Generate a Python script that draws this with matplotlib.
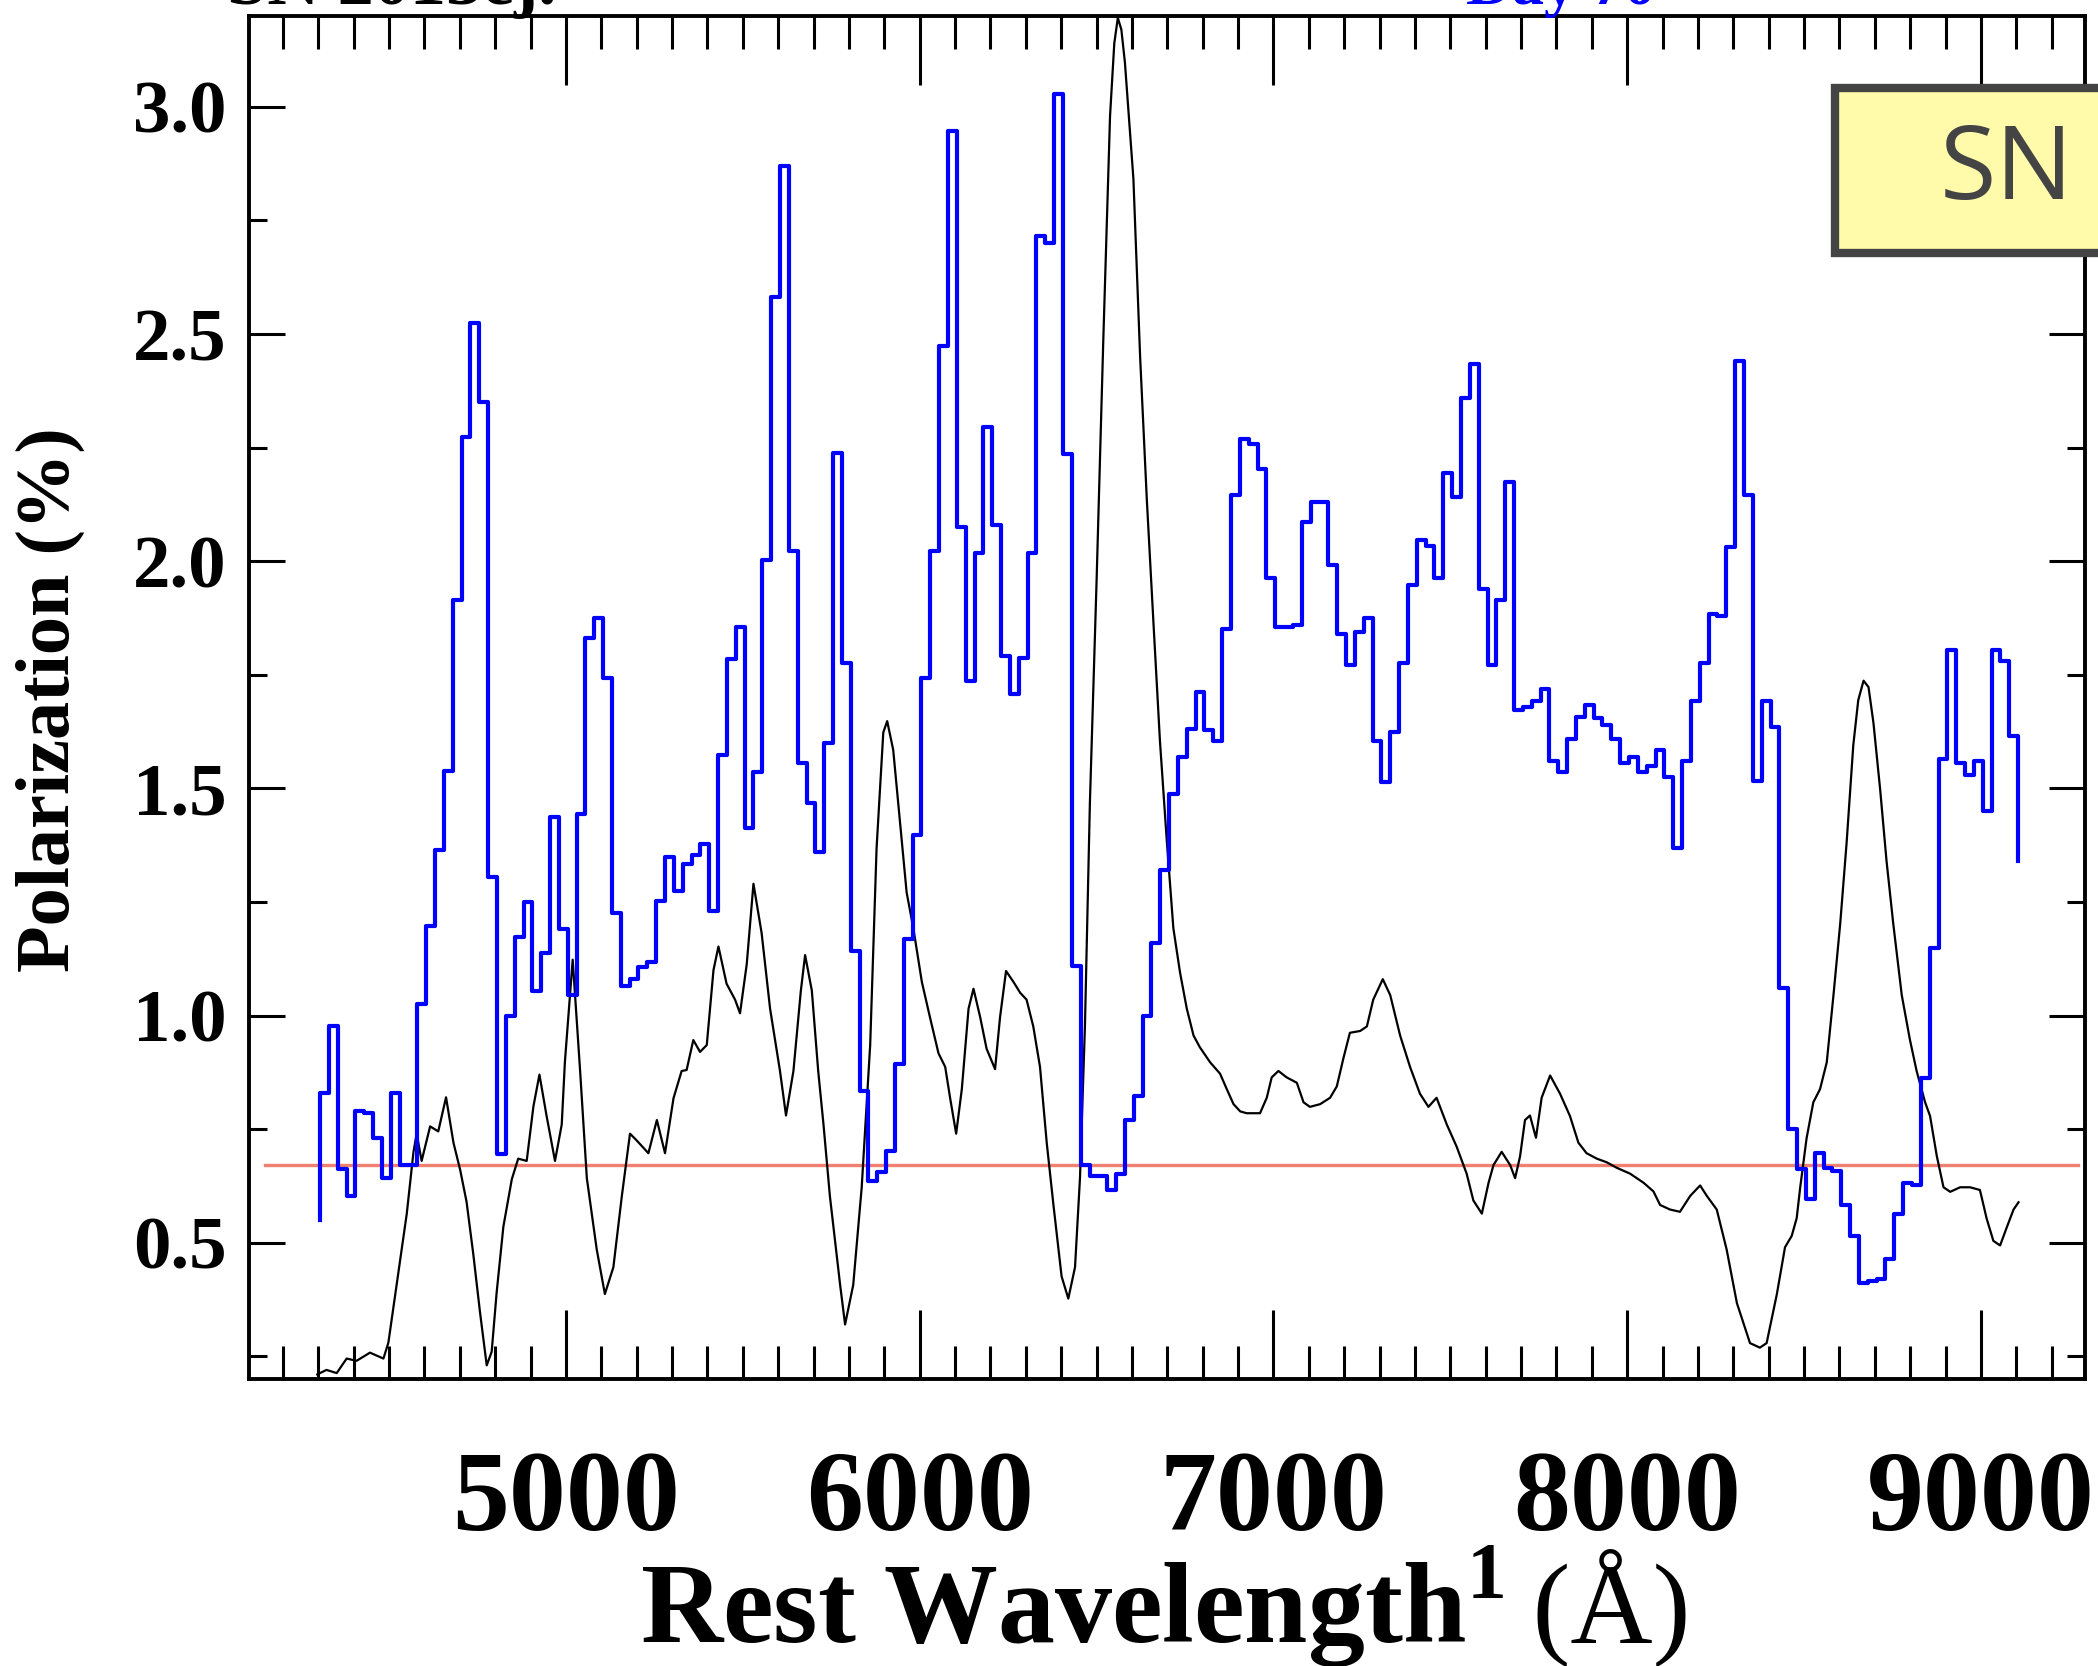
import numpy as np
import matplotlib.pyplot as plt
from matplotlib.ticker import MultipleLocator, FormatStrFormatter
from matplotlib.patches import Rectangle

# polarization spectrum: 25 A bins starting at 4305 A
bin_start = 4305.0
bin_width = 25.0
pol_start = 0.55   # value the histogram starts from
pol_end = 1.34     # value the histogram drops to at the end
pol = [0.829, 0.976, 0.662, 0.603, 0.789, 0.785, 0.73, 0.642, 0.829, 0.672,
       0.672, 1.025, 1.198, 1.365, 1.538, 1.915, 2.273, 2.524, 2.351, 1.304,
       0.695, 1.0, 1.172, 1.25, 1.055, 1.137, 1.438, 1.19, 1.045, 1.443,
       1.83, 1.874, 1.742, 1.225, 1.065, 1.08, 1.107, 1.117, 1.251, 1.349,
       1.274, 1.333, 1.353, 1.377, 1.231, 1.573, 1.785, 1.856, 1.412, 1.536,
       2.003, 2.581, 2.87, 2.023, 1.555, 1.467, 1.359, 1.599, 2.239, 1.776,
       1.143, 0.834, 0.636, 0.655, 0.701, 0.894, 1.169, 1.398, 1.742, 2.023,
       2.473, 2.946, 2.076, 1.736, 2.017, 2.296, 2.08, 1.791, 1.707, 1.787,
       2.017, 2.715, 2.701, 3.029, 2.237, 1.108, 0.672, 0.646, 0.646, 0.617,
       0.652, 0.77, 0.823, 1.0, 1.159, 1.32, 1.487, 1.57, 1.63, 1.713,
       1.628, 1.605, 1.85, 2.145, 2.269, 2.259, 2.204, 1.962, 1.856, 1.856,
       1.86, 2.086, 2.131, 2.131, 1.992, 1.84, 1.772, 1.844, 1.876, 1.605,
       1.514, 1.624, 1.776, 1.948, 2.046, 2.033, 1.962, 2.194, 2.141, 2.359,
       2.434, 1.939, 1.772, 1.915, 2.174, 1.673, 1.68, 1.693, 1.718, 1.561,
       1.536, 1.608, 1.658, 1.683, 1.654, 1.64, 1.608, 1.555, 1.569, 1.536,
       1.55, 1.585, 1.526, 1.369, 1.561, 1.693, 1.776, 1.884, 1.88, 2.031,
       2.44, 2.145, 1.516, 1.693, 1.634, 1.06, 0.75, 0.662, 0.597, 0.697,
       0.665, 0.657, 0.583, 0.514, 0.412, 0.416, 0.42, 0.465, 0.563, 0.632,
       0.626, 0.862, 1.149, 1.565, 1.805, 1.555, 1.53, 1.561, 1.451, 1.805,
       1.781, 1.615]

# scaled flux spectrum (black)
flux_wave = [4297, 4323, 4352, 4380, 4408, 4446, 4484, 4498, 4521, 4550,
             4569, 4578, 4592, 4616, 4639, 4661, 4682, 4701, 4719, 4738,
             4757, 4776, 4790, 4804, 4823, 4847, 4865, 4889, 4908, 4925,
             4945, 4969, 4988, 4997, 5019, 5040, 5059, 5087, 5110, 5134,
             5158, 5181, 5200, 5233, 5257, 5280, 5304, 5327, 5341, 5360,
             5379, 5398, 5417, 5431, 5454, 5478, 5492, 5511, 5530, 5553,
             5577, 5605, 5622, 5643, 5664, 5676, 5695, 5713, 5728, 5746,
             5775, 5789, 5812, 5836, 5860, 5878, 5897, 5908, 5925, 5944,
             5963, 5982, 6006, 6029, 6053, 6072, 6086, 6103, 6119, 6138,
             6152, 6171, 6189, 6213, 6227, 6244, 6265, 6284, 6302, 6321,
             6340, 6359, 6378, 6401, 6420, 6439, 6453, 6467, 6481, 6500,
             6519, 6538, 6550, 6560, 6570, 6580, 6604, 6623, 6642, 6661,
             6679, 6698, 6717, 6736, 6755, 6774, 6792, 6821, 6849, 6868,
             6887, 6906, 6924, 6943, 6962, 6981, 6995, 7014, 7037, 7066,
             7085, 7103, 7132, 7160, 7179, 7198, 7216, 7245, 7264, 7282,
             7309, 7330, 7358, 7386, 7414, 7438, 7461, 7490, 7518, 7546,
             7565, 7589, 7608, 7622, 7645, 7669, 7683, 7697, 7711, 7725,
             7742, 7758, 7782, 7810, 7838, 7862, 7885, 7914, 7942, 7970,
             8008, 8046, 8074, 8093, 8121, 8149, 8178, 8206, 8225, 8253,
             8281, 8310, 8347, 8375, 8394, 8423, 8446, 8465, 8479, 8489,
             8507, 8526, 8545, 8564, 8583, 8602, 8620, 8639, 8653, 8668,
             8682, 8696, 8715, 8733, 8752, 8776, 8799, 8818, 8842, 8856,
             8875, 8894, 8913, 8941, 8969, 8997, 9016, 9035, 9054, 9073,
             9092, 9106]
flux = [0.21, 0.22, 0.213, 0.245, 0.24, 0.258, 0.245, 0.28, 0.406, 0.564,
        0.70, 0.74, 0.68, 0.756, 0.745, 0.82, 0.72, 0.66, 0.59, 0.475,
        0.347, 0.23, 0.26, 0.39, 0.535, 0.64, 0.685, 0.68, 0.80, 0.87,
        0.78, 0.68, 0.76, 0.898, 1.123, 0.878, 0.642, 0.485, 0.387, 0.446,
        0.603, 0.74, 0.725, 0.697, 0.77, 0.697, 0.818, 0.878, 0.88, 0.946,
        0.92, 0.935, 1.10, 1.152, 1.07, 1.035, 1.005, 1.113, 1.29, 1.182,
        1.015, 0.878, 0.78, 0.878, 1.055, 1.133, 1.055, 0.878, 0.76, 0.603,
        0.407, 0.32, 0.407, 0.622, 0.936, 1.368, 1.623, 1.648, 1.585, 1.428,
        1.271, 1.192, 1.074, 0.996, 0.917, 0.887, 0.818, 0.74, 0.838, 1.015,
        1.059, 0.996, 0.927, 0.882, 0.996, 1.098, 1.074, 1.05, 1.035, 0.976,
        0.887, 0.72, 0.583, 0.426, 0.377, 0.446, 0.642, 0.976, 1.467, 1.958,
        2.489, 2.98, 3.14, 3.196, 3.17, 3.098, 2.842, 2.45, 2.135, 1.86,
        1.605, 1.389, 1.192, 1.094, 1.015, 0.956, 0.93, 0.897, 0.872, 0.838,
        0.805, 0.789, 0.785, 0.785, 0.785, 0.819, 0.864, 0.878, 0.864, 0.852,
        0.809, 0.799, 0.805, 0.819, 0.844, 0.907, 0.962, 0.966, 0.976, 1.035,
        1.08, 1.045, 0.956, 0.887, 0.828, 0.799, 0.819, 0.76, 0.711, 0.652,
        0.593, 0.564, 0.632, 0.671, 0.70, 0.671, 0.642, 0.69, 0.77, 0.78,
        0.731, 0.819, 0.868, 0.828, 0.779, 0.72, 0.697, 0.685, 0.677, 0.665,
        0.652, 0.632, 0.613, 0.583, 0.573, 0.568, 0.603, 0.626, 0.603, 0.573,
        0.485, 0.367, 0.279, 0.269, 0.279, 0.387, 0.49, 0.515, 0.554, 0.622,
        0.73, 0.809, 0.838, 0.897, 1.045, 1.202, 1.379, 1.595, 1.694, 1.737,
        1.723, 1.644, 1.497, 1.34, 1.202, 1.045, 0.947, 0.878, 0.809, 0.779,
        0.691, 0.622, 0.612, 0.622, 0.622, 0.616, 0.553, 0.504, 0.494, 0.534,
        0.573, 0.589]

# interstellar polarization level
isp_level = 0.672
isp_range = [4150, 9275]

serif = 'Liberation Serif'
W, H = 2098, 1666
plt.rcParams['mathtext.fontset'] = 'custom'
plt.rcParams['mathtext.bf'] = 'Liberation Serif:bold'
plt.rcParams['mathtext.rm'] = 'Liberation Serif'

edges = bin_start + bin_width * np.arange(len(pol) + 1)
xs = np.repeat(edges, 2)
ys = np.concatenate([[pol_start], np.repeat(pol, 2), [pol_end]])

fig = plt.figure(figsize=(W / 100, H / 100), dpi=100)
ax = fig.add_axes([249 / W, 1 - 1379 / H, (2085 - 249) / W, (1379 - 16) / H])

ax.plot(isp_range, [isp_level, isp_level], color='#f08070', lw=2.4, zorder=1)
ax.plot(flux_wave, flux, color='black', lw=1.6, zorder=2)
ax.plot(xs, ys, color='#0000ff', lw=3.0, zorder=3)

ax.set_xlim(4104, 9294)
ax.set_ylim(0.2, 3.2)

ax.xaxis.set_major_locator(MultipleLocator(1000))
ax.xaxis.set_minor_locator(MultipleLocator(100))
ax.yaxis.set_major_locator(MultipleLocator(0.5))
ax.yaxis.set_minor_locator(MultipleLocator(0.25))
ax.yaxis.set_major_formatter(FormatStrFormatter('%.1f'))

ax.tick_params(which='both', direction='in', top=True, right=True, width=2.2)
ax.tick_params(axis='x', which='major', length=50, pad=51, labelsize=82)
ax.tick_params(axis='x', which='minor', length=24)
ax.tick_params(axis='y', which='major', length=26, pad=16, labelsize=54)
ax.tick_params(axis='y', which='minor', length=13)
for lab in ax.get_xticklabels() + ax.get_yticklabels():
    lab.set_fontfamily(serif)
    lab.set_fontweight('bold')
for sp in ax.spines.values():
    sp.set_linewidth(2.8)

# x label: bold words, lighter unit
base_y = 23 / H
t1 = fig.text(640 / W, base_y, r'Rest Wavelength$^{\mathbf{1}}$', fontsize=82,
              fontfamily=serif, fontweight='bold', va='baseline', ha='left')
fig.canvas.draw()
bb = t1.get_window_extent()
fig.text(bb.x1 / W, base_y, ' (\u00c5)', fontsize=82, fontfamily=serif,
         fontweight='normal', va='baseline', ha='left')

fig.text(50 / W, 1 - 700 / H, 'Polarization (%)', fontsize=55, fontfamily=serif,
         fontweight='bold', rotation=90, va='center', ha='center')

# cropped titles at the very top
fig.text(227 / W, 1 - 4 / H, 'SN 2013ej.', fontsize=52, fontfamily=serif,
         fontweight='bold', va='baseline', ha='left')
fig.text(1466 / W, 1 - 4 / H, 'Day 70', fontsize=46, fontfamily=serif,
         fontweight='bold', color='#0000ff', va='baseline', ha='left')

# label box, cut off by the right edge
box = Rectangle((1835 / W, 1 - 253 / H), 400 / W, 165 / H,
                transform=fig.transFigure, facecolor='#fffbaa',
                edgecolor='#444444', lw=6, zorder=10, clip_on=False)
fig.patches.append(box)
fig.text(1940 / W, 1 - 172 / H, 'SN', fontsize=74, fontfamily='Open Sans',
         color='#444444', va='center', ha='left', zorder=11)

fig.savefig('out.png', dpi=100)
